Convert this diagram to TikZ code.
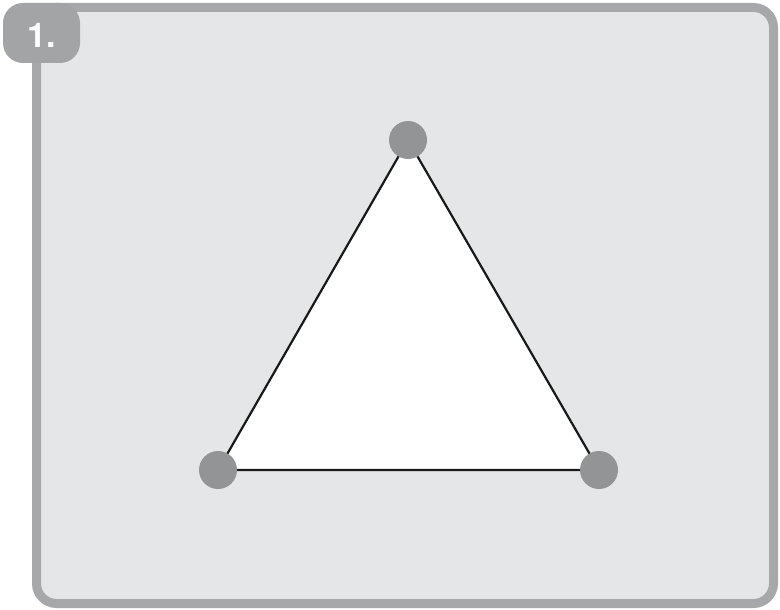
\documentclass[tikz,border=0pt]{standalone}
\usepackage{fontspec}
\setmainfont{TeX Gyre Heros}
\definecolor{framegray}{HTML}{A7A8AA}
\definecolor{panelfill}{HTML}{E5E6E8}
\definecolor{dotgray}{HTML}{939496}
\definecolor{tabgray}{HTML}{A3A4A6}
\begin{document}
\begin{tikzpicture}[x=1pt,y=-1pt,
  frame/.style={draw=framegray,line width=9pt,fill=panelfill,rounded corners=20pt},
  tab/.style={fill=tabgray,rounded corners=20pt},
  edge/.style={draw=black!90,line width=2.2pt,line join=round},
  vertex/.style={circle,fill=dotgray,minimum size=38pt,inner sep=0pt}]
\useasboundingbox (0,0) rectangle (780,610);
\draw[frame] (36.5,7.5) rectangle (773.5,603.5);
\fill[tab] (3,3) rectangle (80,63);
\node[text=white,font=\fontsize{34}{34}\selectfont\bfseries,anchor=base,inner sep=0pt] (lab) at (41.5,47.5) {1.};
\coordinate (A) at (408,140);
\coordinate (B) at (218,470);
\coordinate (C) at (599,470);
\filldraw[edge,fill=white] (A) -- (B) -- (C) -- cycle;
\node[vertex] (va) at (A) {};
\node[vertex] (vb) at (B) {};
\node[vertex] (vc) at (C) {};
\end{tikzpicture}
\end{document}
